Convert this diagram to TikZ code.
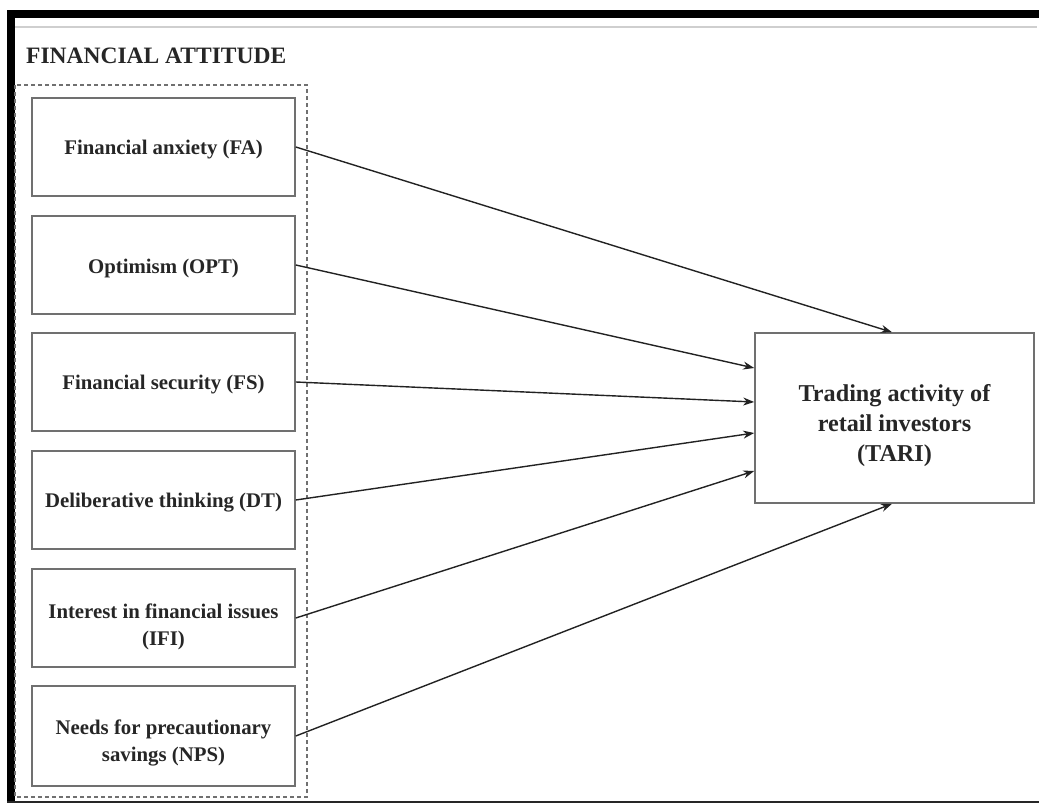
\documentclass[tikz,border=0pt]{standalone}
\usepackage{fontspec}
\setmainfont{Liberation Serif}
\usetikzlibrary{arrows.meta}
\definecolor{boxgray}{HTML}{707070}
\definecolor{linegray}{HTML}{222222}
\definecolor{rulegray}{HTML}{CFCFCF}
\tikzset{
  factor/.style={draw=boxgray, line width=1.6pt, minimum width=263pt, minimum height=98pt, inner sep=0pt},
  factortext/.style={align=center, inner sep=0pt, font=\fontsize{20.8}{26.5}\selectfont\bfseries, text=black!85},
  outcome/.style={draw=boxgray, line width=1.6pt, minimum width=279pt, minimum height=170pt, inner sep=0pt},
  outcometext/.style={align=center, inner sep=0pt, font=\fontsize{24.2}{30}\selectfont\bfseries, text=black!85},
  link/.style={draw=linegray, line width=1.4pt, -{Stealth[length=11pt,width=8pt]}},
  group/.style={draw=boxgray, line width=1.3pt, dash pattern=on 4pt off 3pt}
}
\begin{document}
\begin{tikzpicture}[x=1pt,y=-1pt]
\useasboundingbox (0,0) rectangle (1039,805);
% frame
\fill[black] (7,10) rectangle (1039,18);
\fill[black] (7,10) rectangle (15,803);
\draw[rulegray, line width=2pt] (15,27) -- (1037,27);
\draw[black!85, line width=2pt] (7,802) -- (1039,802);
% title
\node[anchor=west, font=\fontsize{23.5}{28}\selectfont\bfseries, text=black!85, inner sep=0pt] (title) at (26,56) {FINANCIAL ATTITUDE};
% dashed group
\draw[group] (15,85) rectangle (307,797);
% factors
\node[factor] (fa) at (163.5,147) {};
\node[factor] (opt) at (163.5,265) {};
\node[factor] (fs) at (163.5,382) {};
\node[factor] (dt) at (163.5,500) {};
\node[factor] (ifi) at (163.5,618) {};
\node[factor, minimum height=100pt] (nps) at (163.5,736) {};
\node[factortext] (fa-t) at ([yshift=-3pt]fa.center) {Financial anxiety (FA)};
\node[factortext] (opt-t) at ([yshift=-3pt]opt.center) {Optimism (OPT)};
\node[factortext] (fs-t) at ([yshift=-3pt]fs.center) {Financial security (FS)};
\node[factortext] (dt-t) at ([yshift=-3pt]dt.center) {Deliberative thinking (DT)};
\node[factortext] (ifi-t) at ([yshift=-9pt]ifi.center) {Interest in financial issues\\(IFI)};
\node[factortext] (nps-t) at ([yshift=-7pt]nps.center) {Needs for precautionary\\savings (NPS)};
% outcome
\node[outcome] (tari) at (894.5,418) {};
\node[outcometext] (tari-t) at ([yshift=-8pt]tari.center) {Trading activity of\\retail investors\\(TARI)};
% links
\draw[link] (fa.east) -- ([xshift=-2.5pt]tari.north);
\draw[link] (opt.east) -- ([yshift=50pt]tari.west);
\draw[link] (fs.east) -- ([yshift=16pt]tari.west);
\draw[link] (dt.east) -- ([yshift=-15pt]tari.west);
\draw[link] (ifi.east) -- ([yshift=-53pt]tari.west);
\draw[link] (nps.east) -- ([xshift=-2.5pt]tari.south);
\end{tikzpicture}
\end{document}
